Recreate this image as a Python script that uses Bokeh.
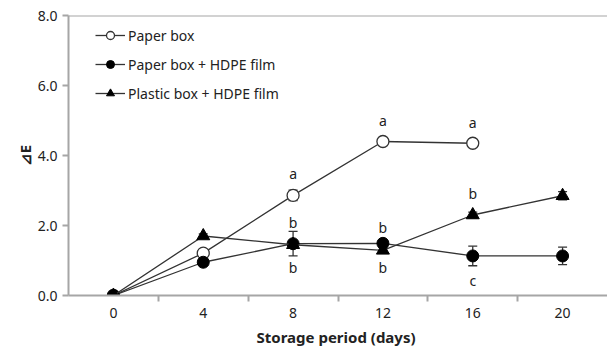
from bokeh.plotting import figure
from bokeh.models import (Range1d, FixedTicker, Whisker, TeeHead, ColumnDataSource,
                          Span, Legend, LegendItem)
from bokeh.core.properties import value
from bokeh.embed import file_html
from bokeh.resources import INLINE

# ---- data ----
days = [0, 4, 8, 12, 16, 20]
paper_days = [0, 4, 8, 12, 16]
paper = [0.0, 1.21, 2.86, 4.40, 4.35]
paper_err = [0.03, 0.08, 0.15, 0.05, 0.05]
paper_hdpe = [0.0, 0.95, 1.48, 1.49, 1.13, 1.13]
paper_hdpe_err = [0.03, 0.06, 0.35, 0.10, 0.28, 0.25]
plastic = [0.0, 1.70, 1.45, 1.29, 2.30, 2.85]
plastic_err = [0.03, 0.06, 0.06, 0.08, 0.08, 0.12]

letter_x = [8, 8, 8, 12, 12, 12, 16, 16, 16]
letter_y = [3.48, 2.09, 0.81, 5.0, 1.95, 0.81, 4.95, 2.91, 0.43]
letter_text = ["a", "b", "b", "a", "b", "b", "a", "b", "c"]

x_ticks = [0, 4, 8, 12, 16, 20]
x_minor = [2, 6, 10, 14, 18]
y_ticks = [0, 2, 4, 6, 8]
y_labels = {0: "0.0", 2: "2.0", 4: "4.0", 6: "6.0", 8: "8.0"}

FONT = "Noto Sans"
AXIS_GREY = "#a6a6a6"
INK = "#222222"
LINE = "#333333"

p = figure(width=607, height=349, output_backend="svg", toolbar_location=None,
           x_range=Range1d(-2, 22), y_range=Range1d(0, 8),
           min_border_left=68, min_border_right=0, min_border_top=15,
           min_border_bottom=54)
p.outline_line_color = None
p.grid.visible = False

# x axis
xa = p.xaxis[0]
xa.ticker = FixedTicker(ticks=x_ticks, minor_ticks=x_minor)
xa.axis_line_color = AXIS_GREY
xa.axis_line_width = 2
xa.major_tick_out = 0
xa.major_tick_in = 0
xa.minor_tick_out = 6
xa.minor_tick_in = 0
xa.minor_tick_line_color = AXIS_GREY
xa.minor_tick_line_width = 2
xa.major_label_standoff = 6
xa.major_label_text_font = FONT
xa.major_label_text_font_size = "14px"
xa.major_label_text_color = INK
xa.axis_label = "Storage period  (days)"
xa.axis_label_text_font = FONT
xa.axis_label_text_font_size = "15px"
xa.axis_label_text_font_style = "bold"
xa.axis_label_text_color = INK
xa.axis_label_standoff = 6

# y axis
ya = p.yaxis[0]
ya.ticker = FixedTicker(ticks=y_ticks)
ya.major_label_overrides = y_labels
ya.axis_line_color = AXIS_GREY
ya.axis_line_width = 2
ya.major_tick_out = 6
ya.major_tick_in = 0
ya.major_tick_line_color = AXIS_GREY
ya.major_tick_line_width = 2
ya.minor_tick_out = 0
ya.minor_tick_in = 0
ya.major_label_standoff = 5
ya.major_label_text_font = FONT
ya.major_label_text_font_size = "14px"
ya.major_label_text_color = INK
ya.axis_label = "⊿E"
ya.axis_label_text_font = FONT
ya.axis_label_text_font_size = "15px"
ya.axis_label_text_font_style = "bold"
ya.axis_label_text_color = INK
ya.axis_label_standoff = 0

p.add_layout(Span(location=y_ticks[-1], dimension="width", line_color=AXIS_GREY,
                  line_width=2))

# error bars
def add_err(xs, ys, es):
    src = ColumnDataSource(dict(x=xs, lo=[y - e for y, e in zip(ys, es)],
                                hi=[y + e for y, e in zip(ys, es)]))
    w = Whisker(source=src, base="x", lower="lo", upper="hi", line_color=LINE,
                line_width=1.3,
                upper_head=TeeHead(size=9, line_color=LINE, line_width=1.3),
                lower_head=TeeHead(size=9, line_color=LINE, line_width=1.3))
    p.add_layout(w)

add_err(paper_days, paper, paper_err)
add_err(days, paper_hdpe, paper_hdpe_err)
add_err(days, plastic, plastic_err)

# series
l1 = p.line(paper_days, paper, line_color=LINE, line_width=1.3)
s1 = p.scatter(paper_days, paper, marker="circle", size=12, fill_color="white",
               line_color=LINE, line_width=1.3)
l2 = p.line(days, paper_hdpe, line_color=LINE, line_width=1.3)
s2 = p.scatter(days, paper_hdpe, marker="circle", size=12, fill_color="black",
               line_color="black")
l3 = p.line(days, plastic, line_color=LINE, line_width=1.3)
s3 = p.scatter(days, plastic, marker="triangle", size=13, fill_color="black",
               line_color="black")

p.text(x=letter_x, y=letter_y, text=letter_text, text_align="center",
       text_baseline="middle", text_font=value(FONT), text_font_size="14px",
       text_color=INK)

legend = Legend(items=[
    LegendItem(label="Paper box", renderers=[l1, s1]),
    LegendItem(label="Paper box + HDPE film", renderers=[l2, s2]),
    LegendItem(label="Plastic box + HDPE film", renderers=[l3, s3]),
], location=(27, 192))
legend.border_line_color = None
legend.background_fill_alpha = 0
legend.padding = 0
legend.margin = 0
legend.spacing = 9
legend.glyph_width = 30
legend.glyph_height = 20
legend.label_height = 20
legend.label_standoff = 3
legend.label_text_font = FONT
legend.label_text_font_size = "14px"
legend.label_text_color = INK
p.add_layout(legend)

open("out.html", "w").write(file_html(p, INLINE))
